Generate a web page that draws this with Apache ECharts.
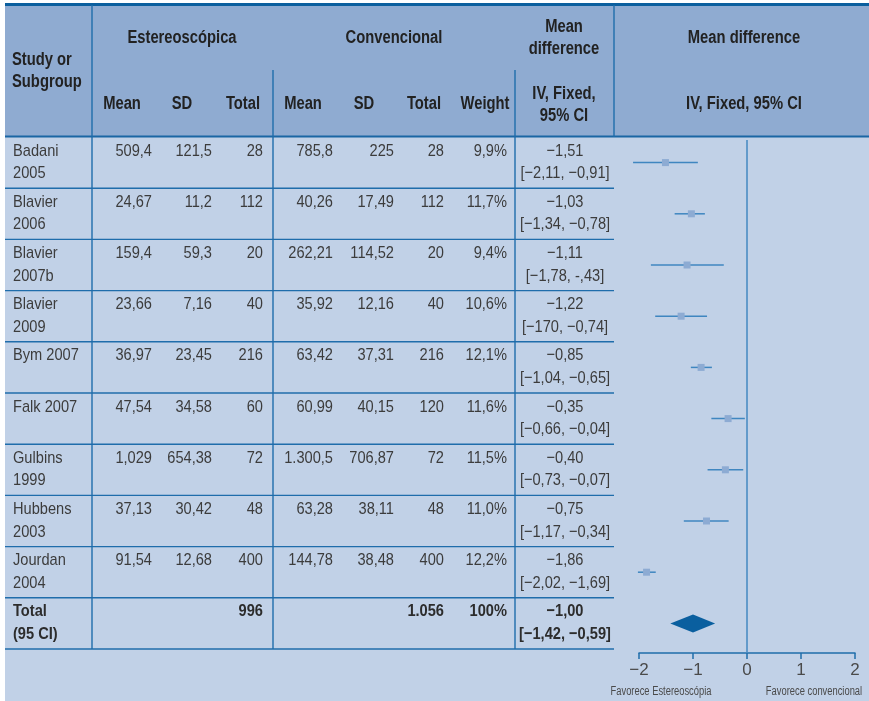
<!DOCTYPE html>
<html>
<head>
<meta charset="utf-8">
<script src="https://cdn.jsdelivr.net/npm/echarts@6/dist/echarts.min.js"></script>
<style>
  html, body { margin: 0; padding: 0; background: #ffffff; }
  #chart { width: 869px; height: 701px; }
</style>
</head>
<body>
<div id="chart"></div>
<script>
// ---- Study data ----
const studies = ['Badani\n2005', 'Blavier\n2006', 'Blavier\n2007b', 'Blavier\n2009', 'Bym 2007',
                 'Falk 2007', 'Gulbins\n1999', 'Hubbens\n2003', 'Jourdan\n2004'];
const totalLabel = 'Total\n(95 CI)';

// Estereoscópica group
const estMean  = ['509,4', '24,67', '159,4', '23,66', '36,97', '47,54', '1,029', '37,13', '91,54'];
const estSD    = ['121,5', '11,2', '59,3', '7,16', '23,45', '34,58', '654,38', '30,42', '12,68'];
const estTotal = ['28', '112', '20', '40', '216', '60', '72', '48', '400'];
const estTotalSum = '996';

// Convencional group
const convMean  = ['785,8', '40,26', '262,21', '35,92', '63,42', '60,99', '1.300,5', '63,28', '144,78'];
const convSD    = ['225', '17,49', '114,52', '12,16', '37,31', '40,15', '706,87', '38,11', '38,48'];
const convTotal = ['28', '112', '20', '40', '216', '120', '72', '48', '400'];
const convTotalSum = '1.056';

const weights = ['9,9%', '11,7%', '9,4%', '10,6%', '12,1%', '11,6%', '11,5%', '11,0%', '12,2%'];
const weightSum = '100%';

// Mean difference (IV, Fixed, 95% CI)
const md     = [-1.51, -1.03, -1.11, -1.22, -0.85, -0.35, -0.40, -0.75, -1.86];
const ciLow  = [-2.11, -1.34, -1.78, -1.70, -1.04, -0.66, -0.73, -1.17, -2.02];
const ciHigh = [-0.91, -0.78, -0.43, -0.74, -0.65, -0.04, -0.07, -0.34, -1.69];
const mdText = ['−1,51', '−1,03', '−1,11', '−1,22', '−0,85', '−0,35', '−0,40', '−0,75', '−1,86'];
const ciText = ['[−2,11, −0,91]', '[−1,34, −0,78]', '[−1,78, -,43]', '[−170, −0,74]', '[−1,04, −0,65]',
                '[−0,66, −0,04]', '[−0,73, −0,07]', '[−1,17, −0,34]', '[−2,02, −1,69]'];

const pooledMd = -1.00, pooledLow = -1.42, pooledHigh = -0.59;
const pooledMdText = '−1,00', pooledCiText = '[−1,42, −0,59]';

const axisTicks = [-2, -1, 0, 1, 2];
const favourLeft = 'Favorece Estereoscópia';
const favourRight = 'Favorece convencional';

// ---- Styling ----
// Liberation Sans squeezed horizontally gives a condensed grotesque look
const FAMILY = '"Liberation Sans", Arial, sans-serif';
const BODY_FONT = '17px ' + FAMILY;
const BOLD_FONT = 'bold 17px ' + FAMILY;
const HEAD_FONT = 'bold 18px ' + FAMILY;
const BODY_SQUEEZE = 0.86;
const HEAD_SQUEEZE = 0.82;
const TEXT_COLOR = '#3c3c3c';
const HEAD_COLOR = '#222222';
const HEAD_BG = '#8fabd1';
const BODY_BG = '#c1d1e7';
const RULE = '#1f6dab';
const CI_COLOR = '#3f86c0';
const BOX_COLOR = '#8dabd3';
const DIAMOND = '#0a5f9f';

const rows = studies.concat([totalLabel]);

// Column layout of the table (page x, alignment)
const columns = [
  { x: 13,  align: 'left'   },  // study
  { x: 152, align: 'right'  },  // est mean
  { x: 212, align: 'right'  },  // est sd
  { x: 263, align: 'right'  },  // est total
  { x: 333, align: 'right'  },  // conv mean
  { x: 394, align: 'right'  },  // conv sd
  { x: 444, align: 'right'  },  // conv total
  { x: 507, align: 'right'  },  // weight
  { x: 565, align: 'center' }   // mean difference
];
const dividerX = [92, 273, 515];

function rowCells(i) {
  if (i < studies.length) {
    return [studies[i], estMean[i], estSD[i], estTotal[i], convMean[i], convSD[i], convTotal[i], weights[i],
            mdText[i] + '\n' + ciText[i]];
  }
  return [totalLabel, '', '', estTotalSum, '', '', convTotalSum, weightSum, pooledMdText + '\n' + pooledCiText];
}

function squeezedText(text, x, y, align, font, fill, squeeze, z) {
  const el = {
    type: 'text', x: x, y: y, scaleX: squeeze, scaleY: 1,
    style: { text: text, x: 0, y: 0, align: align, verticalAlign: 'middle', font: font, fill: fill }
  };
  if (z != null) el.z = z;
  return el;
}

const chart = echarts.init(document.getElementById('chart'), null, { renderer: 'canvas' });

function renderTableRow(params, api) {
  const i = api.value(0);
  const bandH = api.size([0, 1])[1];
  const yc = api.coord([0, i])[1];
  const top = yc - bandH / 2;
  const cells = rowCells(i);
  const isTotal = i === studies.length;
  const children = [];
  cells.forEach(function (txt, c) {
    if (!txt) return;
    String(txt).split('\n').forEach(function (ln, k) {
      children.push(squeezedText(ln, columns[c].x, top + 14 + k * 22.5, columns[c].align,
        isTotal ? BOLD_FONT : BODY_FONT, isTotal ? '#2c2c2c' : TEXT_COLOR, BODY_SQUEEZE));
    });
  });
  // bottom rule of the row
  children.push({
    type: 'line',
    shape: { x1: 5, y1: top + bandH, x2: 614, y2: top + bandH },
    style: { stroke: RULE, lineWidth: 1.4 }
  });
  dividerX.forEach(function (x) {
    children.push({
      type: 'line',
      shape: { x1: x, y1: top, x2: x, y2: top + bandH },
      style: { stroke: RULE, lineWidth: 1.4 }
    });
  });
  return { type: 'group', children: children };
}

function renderEffect(params, api) {
  const i = api.value(0);
  const y = api.coord([0, i])[1];
  const lo = api.coord([api.value(2), i])[0];
  const hi = api.coord([api.value(3), i])[0];
  const mid = api.coord([api.value(1), i])[0];
  if (i === studies.length) {
    const h = 9;
    return {
      type: 'polygon',
      shape: { points: [[lo, y], [mid, y - h], [hi, y], [mid, y + h]] },
      style: { fill: DIAMOND }
    };
  }
  return {
    type: 'group',
    children: [
      { type: 'line', shape: { x1: lo, y1: y, x2: hi, y2: y }, style: { stroke: CI_COLOR, lineWidth: 1.5 } },
      { type: 'rect', shape: { x: mid - 3.5, y: y - 3.5, width: 7, height: 7 }, style: { fill: BOX_COLOR } }
    ]
  };
}

function renderZeroLine(params, api) {
  const cs = params.coordSys;
  const x = api.coord([0, 0])[0];
  return {
    type: 'line',
    shape: { x1: x, y1: cs.y + 3, x2: x, y2: cs.y + cs.height + 4 },
    style: { stroke: '#4b8cc4', lineWidth: 1.6 }
  };
}

const tableData = rows.map(function (_, i) { return [i]; });
const effectData = md.map(function (v, i) { return [i, v, ciLow[i], ciHigh[i]]; })
  .concat([[studies.length, pooledMd, pooledLow, pooledHigh]]);

function headText(text, x, y, align) {
  return squeezedText(text, x, y, align || 'center', HEAD_FONT, HEAD_COLOR, HEAD_SQUEEZE, 5);
}
function rule(x1, y1, x2, y2, w, color) {
  return { type: 'line', z: 4, shape: { x1: x1, y1: y1, x2: x2, y2: y2 }, style: { stroke: color || RULE, lineWidth: w || 1.4 } };
}

const graphics = [
  { type: 'rect', z: -10, shape: { x: 5, y: 4, width: 864, height: 133 }, style: { fill: HEAD_BG } },
  { type: 'rect', z: -10, shape: { x: 5, y: 137, width: 864, height: 564 }, style: { fill: BODY_BG } },
  { type: 'rect', z: 4, shape: { x: 5, y: 3, width: 864, height: 3 }, style: { fill: '#0b5f9e' } },
  rule(5, 136.5, 869, 136.5, 2.2, '#1a66a4'),
  rule(92, 5, 92, 137), rule(614, 5, 614, 137),
  rule(273, 70, 273, 137), rule(515, 70, 515, 137),
  headText('Study or', 12, 60, 'left'), headText('Subgroup', 12, 82, 'left'),
  headText('Estereoscópica', 182, 38),
  headText('Mean', 122, 104), headText('SD', 182, 104), headText('Total', 243, 104),
  headText('Convencional', 394, 38),
  headText('Mean', 303, 104), headText('SD', 364, 104), headText('Total', 424, 104), headText('Weight', 485, 104),
  headText('Mean', 564, 27), headText('difference', 564, 49),
  headText('IV, Fixed,', 564, 94), headText('95% CI', 564, 116),
  headText('Mean difference', 744, 38), headText('IV, Fixed, 95% CI', 744, 104),
  squeezedText(favourLeft, 661, 692, 'center', '12px ' + FAMILY, '#4a4a4a', 0.78, 5),
  squeezedText(favourRight, 814, 692, 'center', '12px ' + FAMILY, '#4a4a4a', 0.78, 5)
];

const option = {
  animation: false,
  backgroundColor: '#ffffff',
  graphic: graphics,
  grid: [
    { left: 5, top: 137, width: 609, height: 512 },
    { left: 639, top: 137, width: 216, height: 512 }
  ],
  xAxis: [
    { gridIndex: 0, type: 'value', min: 0, max: 1, show: false },
    {
      gridIndex: 1, type: 'value', min: axisTicks[0], max: axisTicks[axisTicks.length - 1], interval: 1,
      position: 'bottom', offset: 4,
      axisLine: { show: true, lineStyle: { color: RULE, width: 1.5 } },
      axisTick: { show: true, length: 6, lineStyle: { color: RULE, width: 1.5 } },
      splitLine: { show: false },
      axisLabel: {
        margin: 9, fontSize: 17, fontFamily: FAMILY, color: '#4a4a4a',
        formatter: function (v) { return v < 0 ? '−' + Math.abs(v) : String(v); }
      }
    }
  ],
  yAxis: [
    { gridIndex: 0, type: 'category', data: rows, inverse: true, show: false },
    { gridIndex: 1, type: 'category', data: rows, inverse: true, show: false }
  ],
  series: [
    {
      type: 'custom', name: 'table', xAxisIndex: 0, yAxisIndex: 0, clip: false,
      renderItem: renderTableRow, data: tableData, silent: true
    },
    {
      type: 'custom', name: 'zero', xAxisIndex: 1, yAxisIndex: 1, clip: false,
      renderItem: renderZeroLine, data: [[0]], silent: true
    },
    {
      type: 'custom', name: 'Mean difference', xAxisIndex: 1, yAxisIndex: 1, clip: false,
      renderItem: renderEffect, data: effectData, encode: { x: [1, 2, 3], y: 0 }
    }
  ]
};
chart.setOption(option);
</script>
</body>
</html>
